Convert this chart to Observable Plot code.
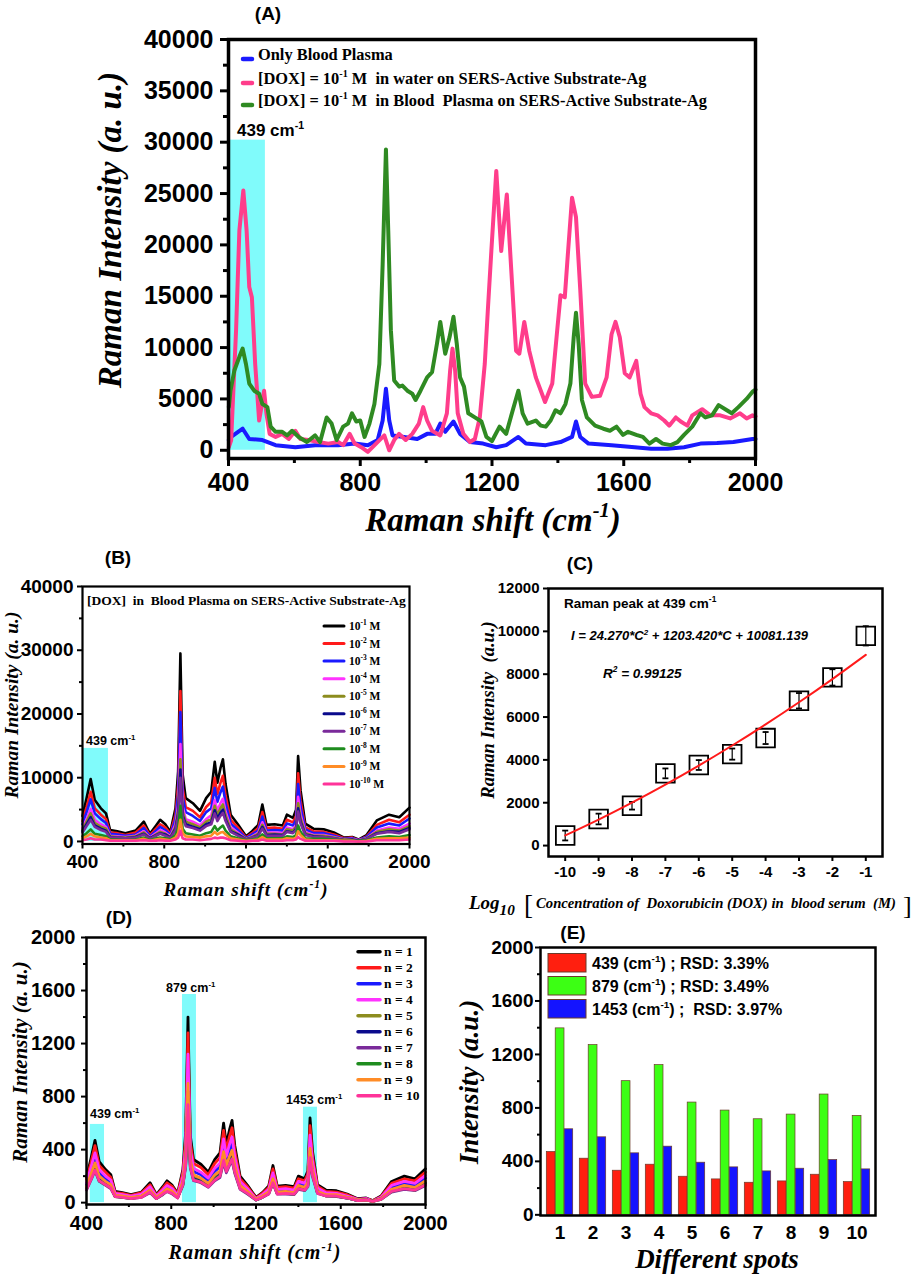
<!DOCTYPE html>
<html><head><meta charset="utf-8">
<script src="https://cdn.jsdelivr.net/npm/d3@7"></script>
<script src="https://cdn.jsdelivr.net/npm/@observablehq/plot@0.6"></script>
<style>
body{margin:0;background:#fff;}
#root{position:relative;width:915px;height:1274px;overflow:hidden;background:#fff;}
#root svg{position:absolute;left:0;top:0;}
</style></head><body><div id="root"></div>
<script>
// ---------------- DATA ----------------
// Panel A
const shiftPlasma = [401,408,443,463,503,543,603,663,733,783,823,853,868,878,888,898,933,973,1003,1028,1043,1058,1083,1103,1133,1173,1213,1243,1280,1303,1363,1408,1443,1455,1468,1493,1563,1633,1683,1733,1783,1833,1883,1933,1991,2000];
const plasmaOnly = [1000,1300,2100,1100,1000,500,300,500,500,650,500,1000,2900,6000,2900,1450,1300,1100,1600,1600,2600,1800,2800,1600,800,650,300,500,1300,650,500,800,1300,2800,1300,650,500,300,150,150,300,650,700,800,1100,1100];
const shiftWater = [401,408,423,433,445,455,463,471,481,493,500,508,515,525,543,563,583,603,618,643,673,703,733,748,768,783,803,823,848,873,888,903,918,938,958,978,991,1003,1018,1043,1063,1073,1080,1088,1096,1113,1133,1148,1163,1178,1188,1198,1213,1228,1245,1258,1273,1283,1298,1313,1333,1361,1383,1398,1408,1421,1431,1443,1455,1468,1483,1503,1528,1548,1563,1575,1588,1603,1618,1638,1651,1663,1683,1703,1723,1738,1758,1773,1793,1808,1838,1863,1893,1923,1953,1973,1991,2000];
const doxWater = [300,970,11700,21400,25300,21400,15900,14900,8400,2900,4200,5800,3600,1600,1300,1600,1100,1900,1100,1000,800,650,800,500,1600,650,300,-150,650,1450,0,1000,1600,1000,1600,2600,4200,2900,1900,1450,3600,7800,9900,7800,3600,1600,800,1100,3200,8400,14000,19400,27200,19400,24900,17800,9700,9400,12500,9700,7100,4700,6500,11700,15100,14900,19400,24600,22700,15600,6500,5200,5300,7100,11300,12500,11000,7500,7100,8700,5500,4200,3600,3400,2900,2400,3200,2800,2400,3400,4000,3400,3400,3100,3600,3100,3400,3300];
const shiftPlasmaDox = [401,406,418,433,443,453,463,478,493,503,518,528,543,563,578,593,613,638,663,678,698,713,728,748,763,775,788,800,813,828,843,858,868,878,885,893,903,918,928,943,958,968,983,1003,1018,1033,1043,1058,1071,1083,1093,1103,1115,1128,1148,1168,1183,1200,1223,1243,1263,1280,1293,1308,1333,1348,1363,1378,1393,1408,1423,1438,1448,1455,1463,1473,1488,1513,1538,1558,1578,1598,1613,1638,1658,1678,1698,1718,1743,1763,1783,1808,1833,1848,1868,1888,1913,1928,1948,1973,1991,2000];
const doxPlasma = [4200,5800,7800,9100,9900,8400,6500,5800,5500,4500,4200,2300,1800,1800,1450,1900,1300,800,1450,800,3200,2600,1000,2300,2600,3600,2800,2900,1300,2600,4500,8400,18100,29300,21400,11700,6800,6200,6300,5800,5500,4900,5800,7100,7600,10400,12500,9400,11000,13000,10400,7100,6200,3600,3200,2800,1300,900,2300,1600,3900,5800,3600,2600,2900,2400,2300,2900,3900,3600,4500,6500,11000,13400,10400,4900,3200,2400,2100,1900,2300,1500,1800,1500,1300,650,1100,650,500,800,1500,2300,3600,3200,3400,4400,3900,3600,4200,5000,5700,5900];
const bandA = [[405, 512, 30200]];

// Panels B and D share the Raman-shift grid
const shiftBD = [400,420,440,460,490,515,535,570,610,660,700,730,760,780,805,830,855,868,879,890,905,940,975,1005,1030,1047,1060,1075,1087,1100,1125,1160,1200,1230,1260,1280,1300,1340,1380,1400,1430,1445,1455,1467,1490,1530,1580,1630,1680,1720,1750,1790,1840,1900,1950,2000];
// Panel B: [DOX] in blood plasma, 10^-1 ... 10^-10 M
const concLabels = ["-1","-2","-3","-4","-5","-6","-7","-8","-9","-10"];
const conc1 = [4000,6800,9800,6500,5200,4400,1800,1600,1300,1700,3100,1200,2500,3400,2700,1500,5200,11000,29500,10500,6800,6000,4800,6800,7800,12500,9200,11500,12900,9000,4200,2700,800,1600,2600,5800,2600,2700,2500,4200,3700,5000,13400,8000,2800,2000,1900,1400,600,700,300,1000,3300,4200,3800,5300];
const conc2 = [3200,5400,7800,5200,4200,3500,1400,1300,1000,1400,2500,1000,2000,2700,2200,1200,4200,8800,23600,8400,5400,4800,3800,5400,6200,10000,7400,9200,10300,7200,3400,2200,600,1300,2100,4600,2100,2200,2000,3400,3000,4000,10700,6400,2200,1600,1500,1100,500,600,200,800,2600,3400,3000,4200];
const conc3 = [2700,4600,6600,4400,3500,2900,1200,1100,900,1100,2100,800,1700,2300,1800,1000,3500,7400,20300,7000,4600,4000,3200,4600,5200,8400,6200,7700,8600,6000,2800,1800,500,1100,1700,3900,1700,1800,1700,2800,2500,3400,9000,5400,1900,1300,1300,900,400,500,200,700,2200,2800,2500,3600];
const conc4 = [2100,3500,5100,3400,2700,2300,900,800,700,900,1600,600,1300,1800,1400,800,2700,5700,15300,5500,3500,3100,2500,3500,4100,6500,4800,6000,6700,4700,2200,1400,400,800,1400,3000,1400,1400,1300,2200,1900,2600,7000,4200,1500,1000,1000,700,300,400,200,500,1700,2200,2000,2800];
const conc5 = [1800,3100,4400,2900,2300,2000,800,700,600,800,1400,500,1100,1500,1200,700,2300,5000,12900,4700,3100,2700,2200,3100,3500,5600,4100,5200,5800,4100,1900,1200,400,700,1200,2600,1200,1200,1100,1900,1700,2300,6000,3600,1300,900,900,600,300,300,100,500,1500,1900,1700,2400];
const conc6 = [1600,2700,3800,2500,2000,1700,700,600,500,700,1200,500,1000,1300,1100,600,2000,4300,11300,4100,2700,2300,1900,2700,3000,4900,3600,4500,5000,3500,1600,1100,300,600,1000,2300,1000,1100,1000,1600,1400,2000,5200,3100,1100,800,700,500,200,300,100,400,1300,1600,1500,2100];
const conc7 = [1400,2400,3400,2300,1800,1500,600,600,500,600,1100,400,900,1200,900,500,1800,3900,10000,3700,2400,2100,1700,2400,2700,4400,3200,4000,4500,3200,1500,900,300,600,900,2000,900,900,900,1500,1300,1800,4700,2800,1000,700,700,500,200,200,100,400,1200,1500,1300,1900];
const conc8 = [800,1300,1900,1200,1000,800,300,300,200,300,600,200,500,600,500,300,1000,2100,5600,2000,1300,1100,900,1300,1500,2400,1700,2200,2500,1700,800,500,200,300,500,1100,500,500,500,800,700,1000,2500,1500,500,400,400,300,100,100,100,200,600,800,700,1000];
const conc9 = [500,800,1200,800,600,500,200,200,200,200,400,100,300,400,300,200,600,1300,3400,1300,800,700,600,800,900,1500,1100,1400,1500,1100,500,300,100,200,300,700,300,300,300,500,400,600,1600,1000,300,200,200,200,100,100,0,100,400,500,500,600];
const conc10 = [200,300,500,300,300,200,100,100,100,100,200,100,100,200,100,100,300,600,1700,500,300,300,200,300,400,600,500,600,600,500,200,100,0,100,100,300,100,100,100,200,200,300,700,400,100,100,100,100,0,0,0,0,200,200,200,300];
const bandB = [[405, 527, 14600]];

// Panel C
const logConc = [-10,-9,-8,-7,-6,-5,-4,-3,-2,-1];
const peak439 = [470,1240,1860,3370,3760,4270,5020,6760,7850,9790];
const peakErr = [230,250,180,230,230,260,280,360,380,450];
const fitCurve = [474,1216,2007,2846,3734,4671,5656,6689,7771,8902];

// Panel D: ten spots
const spot1 = [190,325,470,310,250,210,85,75,60,80,150,60,120,165,130,70,250,530,1400,505,325,290,230,325,375,600,440,550,620,430,200,130,40,75,125,280,125,130,120,200,180,240,640,385,135,95,90,65,30,35,15,50,160,200,180,255];
const spot2 = [175,295,430,280,230,190,75,70,55,75,135,55,110,150,120,65,230,480,1280,460,295,265,210,295,340,545,400,500,565,390,180,120,35,70,115,255,115,120,110,180,165,220,580,350,125,85,80,60,25,30,15,45,145,180,165,230];
const spot3 = [135,235,340,225,180,150,60,55,45,60,110,45,85,120,95,50,180,380,1000,365,235,210,165,235,270,430,315,395,445,310,145,95,30,55,90,200,90,95,85,145,130,175,460,275,95,70,65,45,20,25,10,35,115,145,130,185];
const spot4 = [150,260,375,250,200,170,70,60,50,65,120,50,95,130,105,55,200,425,1120,405,260,230,185,260,300,480,350,440,495,345,160,105,30,60,100,225,100,105,95,160,145,190,510,310,110,75,70,50,25,30,10,40,130,160,145,205];
const spot5 = [115,195,280,185,150,125,50,45,35,50,90,35,70,100,80,40,150,320,840,305,195,175,140,195,225,360,265,330,370,260,120,80,25,45,75,170,75,80,70,120,110,145,390,230,80,55,55,40,20,20,10,30,95,120,110,155];
const spot6 = [105,180,265,175,140,120,50,40,35,45,85,35,65,90,75,40,140,295,780,285,180,160,130,180,210,335,245,310,345,240,110,75,20,40,70,155,70,75,65,110,100,135,355,215,75,55,50,35,15,20,10,30,90,110,100,145];
const spot7 = [95,165,240,160,130,105,45,40,30,40,75,30,60,85,65,35,130,270,715,260,165,150,115,165,190,305,225,280,315,220,100,65,20,40,65,145,65,65,60,100,90,120,325,195,70,50,45,35,15,20,10,25,80,100,90,130];
const spot8 = [105,175,250,165,135,115,45,40,30,45,80,30,65,90,70,40,135,285,750,275,175,155,125,175,205,325,240,295,335,230,110,70,20,40,70,150,70,70,65,110,95,130,345,210,75,50,50,35,15,20,10,25,85,110,95,140];
const spot9 = [120,210,300,200,160,135,55,50,40,50,95,40,75,105,85,45,160,340,900,325,210,185,145,210,240,385,280,350,395,275,130,85,25,50,80,180,80,85,75,130,115,155,410,245,85,60,60,40,20,20,10,30,100,130,115,165];
const spot10 = [100,170,245,165,135,110,45,40,30,40,80,30,65,85,70,35,135,280,740,270,170,155,120,170,200,320,235,290,330,230,105,70,20,40,65,150,65,70,65,105,95,125,340,205,70,50,50,35,15,20,10,25,85,105,95,135];
const spotLabels = ["n = 1","n = 2","n = 3","n = 4","n = 5","n = 6","n = 7","n = 8","n = 9","n = 10"];
const bandsD = [[418, 485, 590, "439"], [853, 919, 1570, "879"], [1424, 1490, 720, "1453"]];

// Panel E
const spotIds = [1,2,3,4,5,6,7,8,9,10];
const int439 = [470,420,330,375,285,265,240,250,300,245];
const int879 = [1395,1270,1000,1120,840,780,715,750,900,740];
const int1453 = [640,580,460,510,390,355,325,345,410,340];
const rsdLabels = [["439", "3.39%", " "], ["879", "3.49%", " "], ["1453", "3.97%", "  "]];

// ---------------- STYLE ----------------
const W = 915, H = 1274;
const sans = "'Liberation Sans', Arial, sans-serif";
const serif = "'Liberation Serif', 'Times New Roman', serif";
const cyan = "#80fbfb";
const seriesColors = ["#000000","#ff1a1a","#1a1aff","#ff33ff","#8c8c1e","#0a0a8c","#7a2a9a","#1e8c1e","#ff8c26","#ff3399"];
const root = document.getElementById("root");

function rows(xs, ys) { return xs.map((x, i) => ({x, y: ys[i]})); }
function addPlot(opts) {
  const svg = Plot.plot({width: W, height: H, ...opts,
    style: {background: "transparent", fontFamily: sans, fontWeight: "bold", overflow: "visible"}});
  root.appendChild(svg);
}
const axText = (size) => ({fontSize: size, fontFamily: sans, fontWeight: "bold", label: null});

// ---------------- PANEL A ----------------
addPlot({
  marginLeft: 228, marginRight: W - 755, marginTop: 39, marginBottom: H - 458,
  x: {domain: [400, 2000]}, y: {domain: [-800, 40000]},
  marks: [
    Plot.rect(bandA, {x1: d => d[0], x2: d => d[1], y1: 0, y2: d => d[2], fill: cyan}),
    Plot.line(rows(shiftPlasma, plasmaOnly), {x: "x", y: "y", stroke: "#1a1aff", strokeWidth: 4}),
    Plot.line(rows(shiftWater, doxWater), {x: "x", y: "y", stroke: "#ff3d8b", strokeWidth: 4}),
    Plot.line(rows(shiftPlasmaDox, doxPlasma), {x: "x", y: "y", stroke: "#2f8a22", strokeWidth: 4}),
    Plot.frame({stroke: "black", strokeWidth: 3.5}),
    Plot.axisY({ticks: [0,5000,10000,15000,20000,25000,30000,35000,40000], tickSize: 8, tickPadding: 7, tickFormat: "d", strokeWidth: 3, ...axText(25)}),
    Plot.axisY({ticks: [2500,7500,12500,17500,22500,27500,32500,37500], tickSize: 5, tickFormat: () => "", strokeWidth: 3, label: null}),
    Plot.axisX({ticks: [400,800,1200,1600,2000], tickSize: 8, tickPadding: 7, tickFormat: "d", strokeWidth: 3, ...axText(25)}),
    Plot.axisX({ticks: [600,1000,1400,1800], tickSize: 5, tickFormat: () => "", strokeWidth: 3, label: null})
  ]
});

// ---------------- PANEL B ----------------
const concSeries = [conc1, conc2, conc3, conc4, conc5, conc6, conc7, conc8, conc9, conc10];
addPlot({
  marginLeft: 82, marginRight: W - 409, marginTop: 586, marginBottom: H - 843.5,
  x: {domain: [400, 2000]}, y: {domain: [-400, 40000]},
  marks: [
    Plot.rect(bandB, {x1: d => d[0], x2: d => d[1], y1: 0, y2: d => d[2], fill: cyan}),
    ...concSeries.map((s, i) => Plot.line(rows(shiftBD, s), {x: "x", y: "y", stroke: seriesColors[i], strokeWidth: 2.6})),
    Plot.frame({stroke: "black", strokeWidth: 2.2}),
    Plot.axisY({ticks: [0,10000,20000,30000,40000], tickSize: 5, tickPadding: 4, tickFormat: "d", strokeWidth: 2, ...axText(19)}),
    Plot.axisY({ticks: [5000,15000,25000,35000], tickSize: 3, tickFormat: () => "", strokeWidth: 2, label: null}),
    Plot.axisX({ticks: [400,800,1200,1600,2000], tickSize: 5, tickPadding: 5, tickFormat: "d", strokeWidth: 2, ...axText(19)}),
    Plot.axisX({ticks: [600,1000,1400,1800], tickSize: 3, tickFormat: () => "", strokeWidth: 2, label: null})
  ]
});

// ---------------- PANEL C ----------------
const cRows = logConc.map((x, i) => ({x, y: peak439[i], e: peakErr[i], f: fitCurve[i]}));
addPlot({
  marginLeft: 548, marginRight: W - 882, marginTop: 588, marginBottom: H - 856,
  x: {domain: [-10.5, -0.5]}, y: {domain: [-510, 12000]},
  marks: [
    Plot.dot(cRows, {x: "x", y: "y", symbol: "square", r: 10.5, fill: "none", stroke: "black", strokeWidth: 1.8}),
    Plot.ruleX(cRows, {x: "x", y1: d => d.y - d.e, y2: d => d.y + d.e, stroke: "black", strokeWidth: 1.2}),
    Plot.link(cRows, {x1: d => d.x - 0.09, x2: d => d.x + 0.09, y1: d => d.y + d.e, y2: d => d.y + d.e, stroke: "black", strokeWidth: 1.8}),
    Plot.link(cRows, {x1: d => d.x - 0.09, x2: d => d.x + 0.09, y1: d => d.y - d.e, y2: d => d.y - d.e, stroke: "black", strokeWidth: 1.8}),
    Plot.line(cRows, {x: "x", y: "f", stroke: "#ff1a1a", strokeWidth: 2, curve: "natural"}),
    Plot.frame({stroke: "black", strokeWidth: 2.5}),
    Plot.axisY({ticks: [0,2000,4000,6000,8000,10000,12000], tickSize: 5, tickPadding: 4, tickFormat: "d", strokeWidth: 2, ...axText(15)}),
    Plot.axisX({ticks: logConc, tickSize: 5, tickPadding: 5, tickFormat: d => String(d), strokeWidth: 2, ...axText(15)})
  ]
});

// ---------------- PANEL D ----------------
const spotSeries = [spot1, spot2, spot3, spot4, spot5, spot6, spot7, spot8, spot9, spot10];
addPlot({
  marginLeft: 86, marginRight: W - 425, marginTop: 937, marginBottom: H - 1204,
  x: {domain: [400, 2000]}, y: {domain: [-14, 2000]},
  marks: [
    Plot.rect(bandsD, {x1: d => d[0], x2: d => d[1], y1: 0, y2: d => d[2], fill: cyan}),
    ...spotSeries.map((s, i) => Plot.line(rows(shiftBD, s), {x: "x", y: "y", stroke: seriesColors[i], strokeWidth: 2.8})),
    Plot.frame({stroke: "black", strokeWidth: 2.5}),
    Plot.axisY({ticks: [0,400,800,1200,1600,2000], tickSize: 5, tickPadding: 6, tickFormat: "d", strokeWidth: 2, ...axText(20)}),
    Plot.axisY({ticks: [200,600,1000,1400,1800], tickSize: 3, tickFormat: () => "", strokeWidth: 2, label: null}),
    Plot.axisX({ticks: [400,800,1200,1600,2000], tickSize: 5, tickPadding: 6, tickFormat: "d", strokeWidth: 2, ...axText(20)}),
    Plot.axisX({ticks: [600,1000,1400,1800], tickSize: 3, tickFormat: () => "", strokeWidth: 2, label: null})
  ]
});

// ---------------- PANEL E ----------------
const eRows = spotIds.map((s, i) => ({s, a: int439[i], b: int879[i], c: int1453[i]}));
const barStroke = {stroke: "#6b3a2a", strokeWidth: 0.7};
addPlot({
  marginLeft: 540, marginRight: W - 875, marginTop: 947, marginBottom: H - 1215,
  x: {type: "band", domain: spotIds, paddingInner: 0, paddingOuter: 0.06},
  y: {domain: [-5, 2000]},
  marks: [
    Plot.barY(eRows, {x: "s", y1: 0, y2: "a", fill: "#ff1f0f", insetLeft: 3.3, insetRight: 20.9, ...barStroke}),
    Plot.barY(eRows, {x: "s", y1: 0, y2: "b", fill: "#3cff14", insetLeft: 12.2, insetRight: 12, ...barStroke}),
    Plot.barY(eRows, {x: "s", y1: 0, y2: "c", fill: "#1414ff", insetLeft: 21.2, insetRight: 3.3, ...barStroke}),
    Plot.frame({stroke: "black", strokeWidth: 2.5}),
    Plot.axisY({ticks: [0,400,800,1200,1600,2000], tickSize: 5, tickPadding: 2, tickFormat: "d", strokeWidth: 2, ...axText(19)}),
    Plot.axisY({ticks: [200,600,1000,1400,1800], tickSize: 3, tickFormat: () => "", strokeWidth: 2, label: null}),
    Plot.axisX({tickSize: 0, tickPadding: 10, ...axText(19)})
  ]
});

// ---------------- TEXT OVERLAY ----------------
const ov = d3.create("svg").attr("width", W).attr("height", H).style("overflow", "visible");
function txt(x, y, parts, o) {
  const size = o.size;
  const t = ov.append("text")
    .attr("transform", `translate(${x},${y})` + (o.rotate ? ` rotate(${o.rotate})` : ""))
    .attr("font-family", o.family || sans).attr("font-size", size)
    .attr("font-weight", o.weight || "bold").attr("font-style", o.style || "normal")
    .attr("text-anchor", o.anchor || "start").attr("fill", "#000")
    .style("white-space", "pre");
  if (o.spacing) t.attr("letter-spacing", o.spacing);
  let cur = 0;
  for (const p of [].concat(parts)) {
    const [s, kind] = Array.isArray(p) ? p : [p, null];
    const target = kind === "sup" ? -0.42 * size : kind === "sub" ? 0.32 * size : 0;
    const ts = t.append("tspan").text(s);
    if (target !== cur) { ts.attr("dy", target - cur); cur = target; }
    if (kind) ts.attr("font-size", (o.subScale || 0.62) * size);
  }
  return t;
}
function seg(x1, y1, x2, y2, color, w) {
  ov.append("line").attr("x1", x1).attr("y1", y1).attr("x2", x2).attr("y2", y2)
    .attr("stroke", color).attr("stroke-width", w).attr("stroke-linecap", "round");
}
const titleFont = {family: serif, style: "italic"};

// A
txt(268, 20, "(A)", {size: 19, anchor: "middle"});
txt(121, 230, "Raman Intensity (a. u.)", {size: 33, anchor: "middle", rotate: -90, ...titleFont});
txt(493, 531, ["Raman shift (cm", ["-1", "sup"], ")"], {size: 33, anchor: "middle", ...titleFont});
const legA = [
  ["#1a1aff", ["Only Blood Plasma"]],
  ["#ff3d8b", ["[DOX] = 10", ["-1", "sup"], " M  in water on SERS-Active Substrate-Ag"]],
  ["#2f8a22", ["[DOX] = 10", ["-1", "sup"], " M  in Blood  Plasma on SERS-Active Substrate-Ag"]]
];
legA.forEach(([c, parts], i) => {
  const y = [59, 83, 105][i];
  seg(243, y, 252, y, c, 4.5);
  txt(258, y + 1, parts, {size: 16.4, family: serif});
});
txt(237, 136, ["439 cm", ["-1", "sup"]], {size: 17});

// B
txt(118, 564, "(B)", {size: 19, anchor: "middle"});
txt(18, 705, "Raman Intensity (a. u.)", {size: 19.5, anchor: "middle", rotate: -90, ...titleFont});
txt(246, 896, ["Raman shift (cm", ["-1", "sup"], ")"], {size: 19, anchor: "middle", spacing: 1, ...titleFont});
txt(87, 605, "[DOX]  in  Blood Plasma on SERS-Active Substrate-Ag", {size: 13.5, family: serif});
concLabels.forEach((lab, i) => {
  const y = 626 + i * 17.55;
  seg(324, y, 344, y, seriesColors[i], 3);
  txt(349, y + 4, ["10", [lab, "sup"], " M"], {size: 11.5, family: serif, subScale: 0.65});
});
txt(86, 745, ["439 cm", ["-1", "sup"]], {size: 12.5});

// C
txt(580, 570, "(C)", {size: 19, anchor: "middle"});
txt(494, 710, "Raman Intensity  (a.u.)", {size: 18.5, anchor: "middle", rotate: -90, ...titleFont});
txt(469, 909, ["Log", ["10", "sub"]], {size: 19, subScale: 0.8, ...titleFont});
txt(524, 914, "[", {size: 27, family: serif, weight: "normal"});
txt(536, 908, "Concentration of  Doxorubicin (DOX) in  blood serum  (M)", {size: 14.7, ...titleFont});
txt(903, 914, "]", {size: 26, family: serif, weight: "normal"});
txt(564, 608, ["Raman peak at 439 cm", ["-1", "sup"]], {size: 13.5});
txt(571, 640, ["I = 24.270*C", ["2", "sup"], " + 1203.420*C + 10081.139"], {size: 13, style: "italic"});
txt(603, 678, ["R", ["2", "sup"], " = 0.99125"], {size: 13.5, style: "italic"});

// D
txt(119, 924, "(D)", {size: 19, anchor: "middle"});
txt(27, 1062, "Raman Intensity (a. u.)", {size: 21, anchor: "middle", rotate: -90, ...titleFont});
txt(255, 1259, ["Raman shift (cm", ["-1", "sup"], ")"], {size: 20, anchor: "middle", spacing: 1, ...titleFont});
spotLabels.forEach((lab, i) => {
  const y = 951.7 + i * 16;
  seg(358, y, 380, y, seriesColors[i], 3.5);
  txt(384, y + 4.5, lab, {size: 13.5, family: serif});
});
txt(90, 1118, ["439 cm", ["-1", "sup"]], {size: 12.5});
txt(166, 992, ["879 cm", ["-1", "sup"]], {size: 12.5});
txt(286, 1104, ["1453 cm", ["-1", "sup"]], {size: 12.5});

// E
txt(573, 939, "(E)", {size: 19, anchor: "middle"});
txt(478, 1082, "Intensity (a.u.)", {size: 27, anchor: "middle", rotate: -90, ...titleFont});
txt(717, 1268, "Different spots", {size: 27, anchor: "middle", ...titleFont});
const eColors = ["#ff1f0f", "#3cff14", "#1414ff"];
rsdLabels.forEach(([band, rsd, gap], i) => {
  const y = 953.5 + i * 23;
  ov.append("rect").attr("x", 548).attr("y", y).attr("width", 38).attr("height", 18.5)
    .attr("fill", eColors[i]).attr("stroke", "#6b3a2a").attr("stroke-width", 1);
  txt(592, y + 15, [band + " (cm", ["-1", "sup"], ") ;" + gap + "RSD: " + rsd], {size: 16});
});

root.appendChild(ov.node());
</script></body></html>
